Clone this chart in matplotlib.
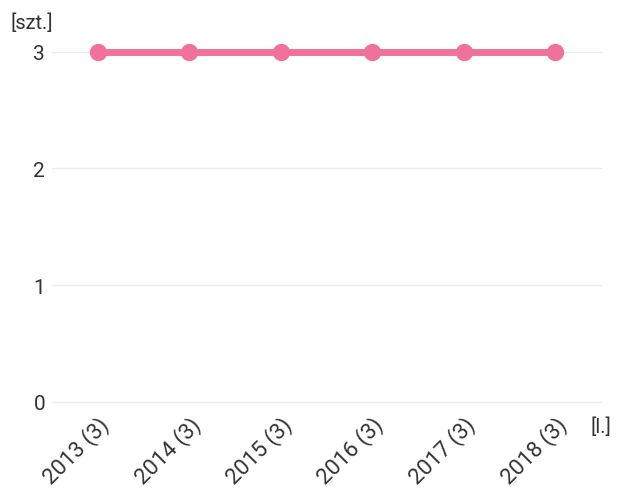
import matplotlib
matplotlib.use("Agg")
import matplotlib.pyplot as plt

years = ["2013 (3)", "2014 (3)", "2015 (3)", "2016 (3)", "2017 (3)", "2018 (3)"]
values = [3, 3, 3, 3, 3, 3]
yticks = [0, 1, 2, 3]

plt.rcParams['font.family'] = ['Roboto', 'DejaVu Sans']

fig = plt.figure(figsize=(6.24, 4.89), dpi=100)
ax = fig.add_axes([52/624, 1-403/489, (601-52)/624, (403-41)/489])

x = list(range(len(years)))
ax.plot(x, values, color='#F0729B', lw=5, marker='o', markersize=11.5,
        solid_capstyle='round', zorder=3, clip_on=False)

ax.set_xlim(-0.5, 5.5)
ax.set_ylim(0, 3.1)
ax.set_yticks(yticks)
ax.set_yticklabels([str(v) for v in yticks], fontsize=15, color='#333333')
ax.set_xticks(x)
ax.set_xticklabels(years, rotation=45, ha='right', va='top', rotation_mode='anchor',
                   fontsize=16, color='#333333')
ax.tick_params(axis='both', length=0)
ax.tick_params(axis='y', pad=5)
ax.tick_params(axis='x', pad=8)
ax.grid(axis='y', color='#ececec', lw=1)
for gl in ax.get_ygridlines():
    gl.set_clip_on(False)
ax.set_axisbelow(True)
for s in ax.spines.values():
    s.set_visible(False)

fig.text(10/624, 1-23/489, "[szt.]", fontsize=14.5, color='#333333', va='center', ha='left')
fig.text(591/624, 1-427/489, "[l.]", fontsize=14.5, color='#333333', va='center', ha='left')

fig.savefig("out.png", dpi=100)
